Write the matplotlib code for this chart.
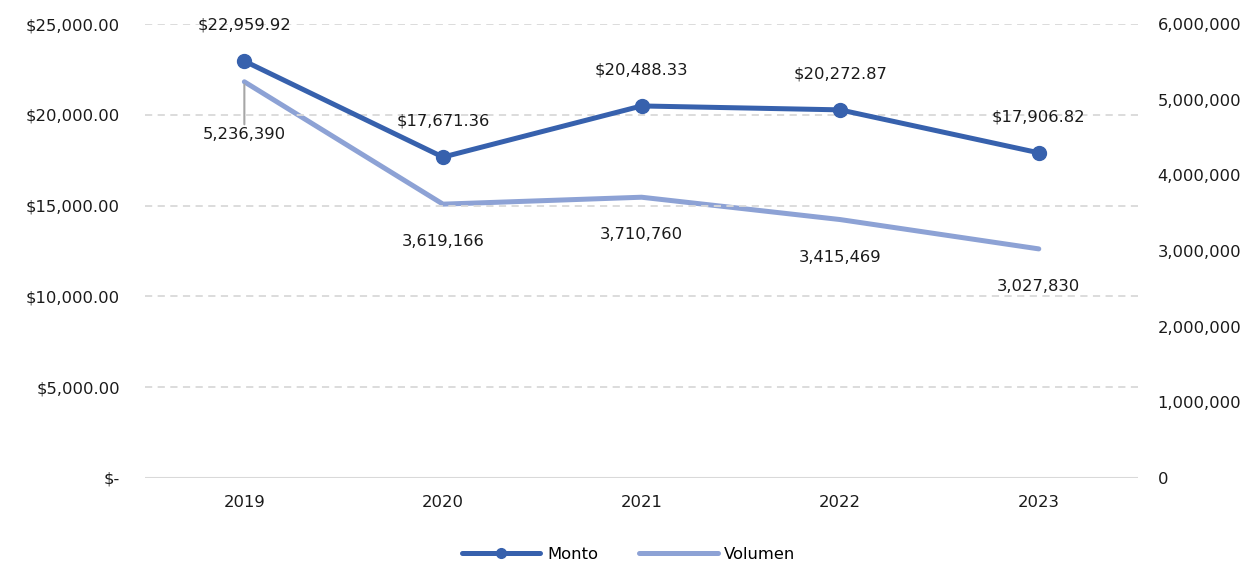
import matplotlib
matplotlib.use("Agg")
import matplotlib.pyplot as plt
from matplotlib.ticker import FuncFormatter, FixedLocator
from matplotlib.lines import Line2D

plt.rcParams['font.family'] = ['DejaVu Sans']

years = ["2019", "2020", "2021", "2022", "2023"]
monto = [22959.92, 17671.36, 20488.33, 20272.87, 17906.82]
volumen = [5236390, 3619166, 3710760, 3415469, 3027830]
left_ticks = [0, 5000, 10000, 15000, 20000, 25000]
right_ticks = [0, 1000000, 2000000, 3000000, 4000000, 5000000, 6000000]

c_monto = "#3761AD"
c_vol = "#8DA2D5"
txt = "#1a1a1a"
fs = 11.8

fig = plt.figure(figsize=(12.57, 5.68), dpi=100)
ax = fig.add_axes([0.1154, 0.1585, 0.79, 0.7992])
ax2 = ax.twinx()

x = list(range(len(years)))

ax.set_xlim(-0.5, 4.5)
ax.set_ylim(0, 25000)
ax2.set_ylim(0, 6000000)

ax.yaxis.set_major_locator(FixedLocator(left_ticks))
ax2.yaxis.set_major_locator(FixedLocator(right_ticks))

def lfmt(v, p):
    return "$-" if v == 0 else "${:,.2f}".format(v)
ax.yaxis.set_major_formatter(FuncFormatter(lfmt))
ax2.yaxis.set_major_formatter(FuncFormatter(lambda v, p: "{:,.0f}".format(v)))

for a in (ax, ax2):
    for s in a.spines.values():
        s.set_visible(False)
    a.tick_params(length=0, labelsize=fs, colors=txt)
ax.tick_params(axis='y', pad=18)
ax2.tick_params(axis='y', pad=14)
ax.tick_params(axis='x', pad=12)

ax.set_xticks(x)
ax.set_xticklabels(years)

for t in left_ticks[1:]:
    ax.axhline(t, color="#D9D9D9", lw=1.3, ls=(0, (4, 3)), zorder=0)
ax.axhline(0, color="#D9D9D9", lw=1.5, zorder=0)

l2, = ax2.plot(x, volumen, color=c_vol, lw=3.6, solid_capstyle='round', zorder=2)
l1, = ax.plot(x, monto, color=c_monto, lw=3.6, marker='o', ms=10, solid_capstyle='round', zorder=3)
ax.set_zorder(ax2.get_zorder() + 1)
ax.patch.set_visible(False)

for xi, v in zip(x, monto):
    ax.annotate("${:,.2f}".format(v), (xi, v), xytext=(0, 26), textcoords='offset points',
                ha='center', va='center', fontsize=fs, color=txt)

for i, (xi, v) in enumerate(zip(x, volumen)):
    off = -38 if i == 0 else -27
    ax2.annotate("{:,}".format(v), (xi, v), xytext=(0, off), textcoords='offset points',
                 ha='center', va='center', fontsize=fs, color=txt,
                 arrowprops=dict(arrowstyle='-', color='#A6A6A6', lw=1.5, shrinkA=0, shrinkB=2) if i == 0 else None)

h1 = Line2D([], [], color=c_monto, lw=3.6, marker='o', ms=7, solid_capstyle='round')
h2 = Line2D([], [], color=c_vol, lw=3.6, solid_capstyle='round')
fig.legend([h1, h2], ["Monto", "Volumen"], loc='lower center', bbox_to_anchor=(0.5, -0.015),
           ncol=2, frameon=False, fontsize=fs, handlelength=4.8, columnspacing=2.5,
           handletextpad=0.4)

fig.savefig("out.png", dpi=100)
